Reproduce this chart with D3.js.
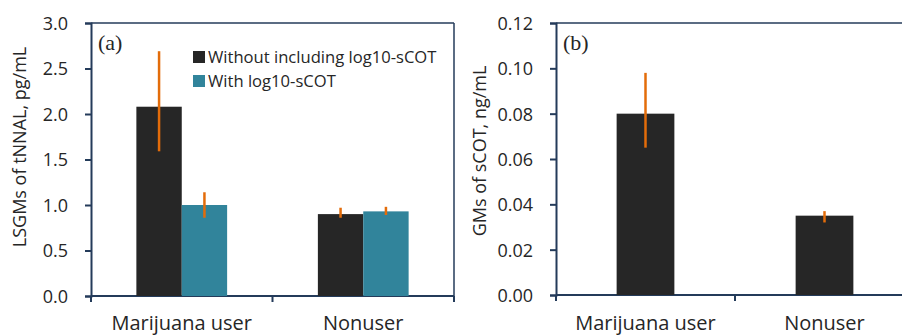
<!DOCTYPE html>
<html lang="en">
<head>
<meta charset="UTF-8">
<title>LSGMs of tNNAL and GMs of sCOT</title>
<style>
  body { margin: 0; background: #fff; }
  svg text { font-family: "Open Sans", Lato, sans-serif; fill: #262626; }
</style>
</head>
<body>
<div id="chart"></div>
<script src="https://cdnjs.cloudflare.com/ajax/libs/d3/7.8.5/d3.min.js"></script>
<script>
    // data
    const groups = ["Marijuana user", "Nonuser"];
    const seriesA = ["Without including log10-sCOT", "With log10-sCOT"];
    const tnnal = [[2.08, 1.0], [0.90, 0.93]];
    const tnnalLow = [[1.59, 0.86], [0.86, 0.89]];
    const tnnalHigh = [[2.69, 1.14], [0.97, 0.98]];
    const ticksA = [0, 0.5, 1.0, 1.5, 2.0, 2.5, 3.0];

    const scot = [0.080, 0.035];
    const scotLow = [0.065, 0.032];
    const scotHigh = [0.098, 0.037];
    const ticksB = [0, 0.02, 0.04, 0.06, 0.08, 0.10, 0.12];

    //config
    const W = 902, H = 336;
    const axisColor = "#243b5a";
    const colors = ["#262626", "#31849b"];
    const errColor = "#e36c0a";

    const svg = d3.select("#chart").append("svg")
        .attr("width", W).attr("height", H);

    // draws frame, axes and tick labels for one panel
    function panelFrame(g, x0, y, opts) {
        const [l] = x0.range();
        const right = x0.range()[1];
        const [bot, top] = y.range();

        g.append("line").attr("x1", l).attr("x2", Math.min(right, W)).attr("y1", top).attr("y2", top)
            .attr("stroke", axisColor).attr("stroke-width", 1.5);
        if (right <= W) {
            g.append("line").attr("x1", right).attr("x2", right).attr("y1", top).attr("y2", bot)
                .attr("stroke", axisColor).attr("stroke-width", 1.5);
        }

        const yAxis = d3.axisLeft(y).tickValues(opts.ticks).tickFormat(opts.fmt).tickSize(6).tickPadding(17);
        const ya = g.append("g").attr("transform", `translate(${l},0)`).call(yAxis);
        ya.select(".domain").attr("stroke", axisColor).attr("stroke-width", 2);
        ya.selectAll(".tick line").attr("stroke", axisColor).attr("stroke-width", 2);
        ya.selectAll("text").attr("font-size", 18).attr("font-family", "'Open Sans', sans-serif")
            .attr("fill", "#262626").attr("dy", "0.36em");

        // x axis line with ticks at the category boundaries
        g.append("line").attr("x1", l).attr("x2", Math.min(right, W)).attr("y1", bot).attr("y2", bot)
            .attr("stroke", axisColor).attr("stroke-width", 2);
        const bounds = groups.map(d => x0(d)).concat([right]);
        g.selectAll(".xt").data(bounds.filter(b => b <= W)).join("line")
            .attr("x1", d => d).attr("x2", d => d).attr("y1", bot).attr("y2", bot + 6)
            .attr("stroke", axisColor).attr("stroke-width", 2);

        // kept just inside the bottom edge
        g.selectAll(".xl").data(groups).join("text")
            .attr("x", d => x0(d) + x0.bandwidth() / 2).attr("y", H - 6)
            .attr("text-anchor", "middle").attr("font-size", 20).text(d => d);

        g.append("text")
            .attr("transform", `translate(${opts.titleX},${opts.titleY}) rotate(-90)`)
            .attr("text-anchor", "middle").attr("dy", "0.35em").attr("font-size", 18).text(opts.title);

        g.append("text").attr("x", l + 7).attr("y", top + 27)
            .style("font-family", "'Liberation Serif', serif")
            .attr("font-size", 22).text(opts.tag);
    }

    // panel (a)
    const gA = svg.append("g");
    const xA = d3.scaleBand().domain(groups).range([91, 454]);
    const xA1 = d3.scaleBand().domain(seriesA).range([0, xA.bandwidth()]).paddingOuter(1);
    const yA = d3.scaleLinear().domain([0, 3]).range([296, 23]);
    panelFrame(gA, xA, yA, {
        ticks: ticksA, fmt: d3.format(".1f"), title: "LSGMs of tNNAL, pg/mL", tag: "(a)",
        titleX: 20, titleY: 147
    });

    const barsA = [];
    groups.forEach((grp, i) => seriesA.forEach((s, j) => barsA.push({
        grp, s, j, v: tnnal[i][j], lo: tnnalLow[i][j], hi: tnnalHigh[i][j]
    })));
    gA.selectAll(".bar").data(barsA).join("rect")
        .attr("x", d => xA(d.grp) + xA1(d.s)).attr("width", xA1.bandwidth())
        .attr("y", d => yA(d.v)).attr("height", d => yA(0) - yA(d.v))
        .attr("fill", d => colors[d.j]);
    gA.selectAll(".err").data(barsA).join("line")
        .attr("x1", d => xA(d.grp) + xA1(d.s) + xA1.bandwidth() / 2)
        .attr("x2", d => xA(d.grp) + xA1(d.s) + xA1.bandwidth() / 2)
        .attr("y1", d => yA(d.lo)).attr("y2", d => yA(d.hi))
        .attr("stroke", errColor).attr("stroke-width", 2.5);

    // legend
    const leg = gA.append("g").attr("transform", "translate(193,51)");
    seriesA.forEach((s, j) => {
        leg.append("rect").attr("x", 0).attr("y", j * 24).attr("width", 12).attr("height", 12)
            .attr("fill", colors[j]);
        leg.append("text").attr("x", 15).attr("y", j * 24 + 12).attr("font-size", 16.6)
            .attr("fill", "#333").text(s);
    });

    // panel (b)
    const gB = svg.append("g");
    const xB = d3.scaleBand().domain(groups).range([556, 914]);
    const xB1 = d3.scaleBand().domain(["GM"]).range([0, xB.bandwidth()]).paddingOuter(1.05);
    const yB = d3.scaleLinear().domain([0, 0.12]).range([295, 23]);
    panelFrame(gB, xB, yB, {
        ticks: ticksB, fmt: d3.format(".2f"), title: "GMs of sCOT, ng/mL", tag: "(b)",
        titleX: 480, titleY: 151
    });

    gB.selectAll(".bar").data(groups).join("rect")
        .attr("x", d => xB(d) + xB1("GM")).attr("width", xB1.bandwidth())
        .attr("y", (d, i) => yB(scot[i])).attr("height", (d, i) => yB(0) - yB(scot[i]))
        .attr("fill", colors[0]);
    gB.selectAll(".err").data(groups).join("line")
        .attr("x1", d => xB(d) + xB.bandwidth() / 2).attr("x2", d => xB(d) + xB.bandwidth() / 2)
        .attr("y1", (d, i) => yB(scotLow[i])).attr("y2", (d, i) => yB(scotHigh[i]))
        .attr("stroke", errColor).attr("stroke-width", 2.5);
</script>
</body>
</html>
